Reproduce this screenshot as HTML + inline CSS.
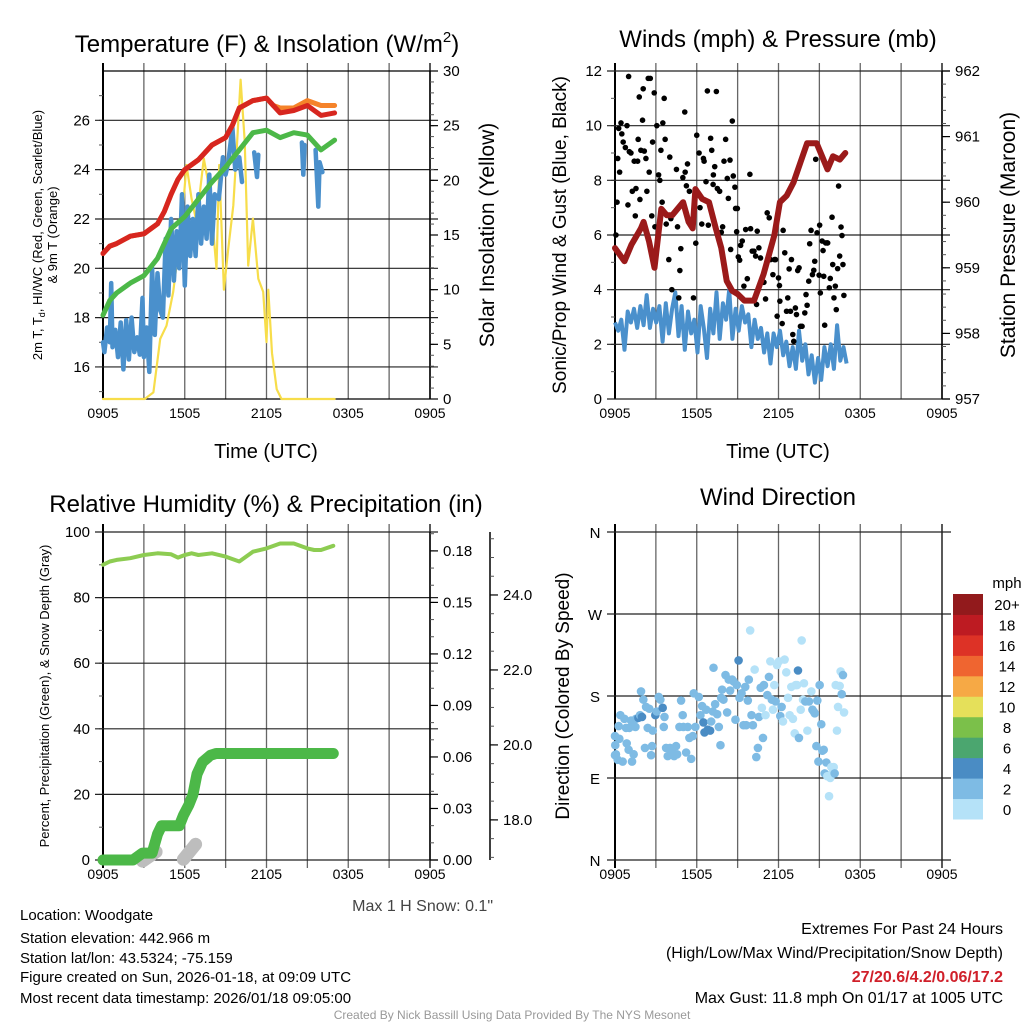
<!DOCTYPE html>
<html><head><meta charset="utf-8"><style>
html,body{margin:0;padding:0;background:#fff;}
svg{display:block;font-family:"Liberation Sans",sans-serif;}
</style></head><body>
<svg id="fig" width="1024" height="1024" viewBox="0 0 1024 1024" xmlns="http://www.w3.org/2000/svg">
<rect x="0" y="0" width="1024" height="1024" fill="#fff"/>
<text x="267" y="52" font-size="24" text-anchor="middle">Temperature (F) &amp; Insolation (W/m<tspan dy="-10" font-size="15">2</tspan><tspan dy="10">)</tspan></text>
<text x="778" y="47" font-size="24" text-anchor="middle">Winds (mph) &amp; Pressure (mb)</text>
<text x="266" y="512" font-size="24" text-anchor="middle">Relative Humidity (%) &amp; Precipitation (in)</text>
<text x="778" y="505" font-size="24" text-anchor="middle">Wind Direction</text>
<text x="266" y="458" font-size="20" text-anchor="middle">Time (UTC)</text>
<text x="778" y="458" font-size="20" text-anchor="middle">Time (UTC)</text>
<text transform="translate(42,235) rotate(-90)" font-size="13" text-anchor="middle">2m T, T<tspan dy="3" font-size="9">d</tspan><tspan dy="-3">, HI/WC (Red, Green, Scarlet/Blue)</tspan></text>
<text transform="translate(57,235) rotate(-90)" font-size="13" text-anchor="middle">&amp; 9m T (Orange)</text>
<text transform="translate(494,235) rotate(-90)" font-size="21" text-anchor="middle">Solar Insolation (Yellow)</text>
<text transform="translate(566,235) rotate(-90)" font-size="19" text-anchor="middle">Sonic/Prop Wind &amp; Gust (Blue, Black)</text>
<text transform="translate(1015,235) rotate(-90)" font-size="21" text-anchor="middle">Station Pressure (Maroon)</text>
<text transform="translate(49,696) rotate(-90)" font-size="13" text-anchor="middle">Percent, Precipitation (Green), &amp; Snow Depth (Gray)</text>
<text transform="translate(569,696) rotate(-90)" font-size="19" text-anchor="middle">Direction (Colored By Speed)</text>
<text x="493" y="911" font-size="16" fill="#444" text-anchor="end">Max 1 H Snow: 0.1"</text>
<g font-size="15">
<text x="20" y="920">Location: Woodgate</text>
<text x="20" y="943">Station elevation: 442.966 m</text>
<text x="20" y="963">Station lat/lon: 43.5324; -75.159</text>
<text x="20" y="982">Figure created on Sun, 2026-01-18, at 09:09 UTC</text>
<text x="20" y="1003">Most recent data timestamp: 2026/01/18 09:05:00</text>
</g>
<g font-size="16" text-anchor="end">
<text x="1003" y="934">Extremes For Past 24 Hours</text>
<text x="1003" y="958">(High/Low/Max Wind/Precipitation/Snow Depth)</text>
<text x="1003" y="982" fill="#d0202a" font-weight="bold">27/20.6/4.2/0.06/17.2</text>
<text x="1003" y="1003">Max Gust: 11.8 mph On 01/17 at 1005 UTC</text>
</g>
<text x="512" y="1019" font-size="12" fill="#999" text-anchor="middle">Created By Nick Bassill Using Data Provided By The NYS Mesonet</text>
</svg>
<script>
const xTickLabels=["0905","1505","2105","0305","0905"];
const tempRed=[[0,20.6],[0.5,20.9],[1,21.0],[2,21.3],[3,21.4],[3.5,21.6],[4,21.8],[4.5,22.3],[5,23.0],[5.5,23.6],[6,24.0],[7,24.4],[8,25.0],[9,25.3],[9.5,25.8],[10,26.5],[11,26.8],[12,26.9],[12.5,26.6],[13,26.3],[14,26.4],[15,26.6],[15.5,26.4],[16,26.2],[17,26.3]];
const tempOrange=[[0,20.6],[0.5,20.9],[1,21.0],[2,21.3],[3,21.4],[3.5,21.6],[4,21.8],[4.5,22.3],[5,23.0],[5.5,23.6],[6,24.0],[7,24.4],[8,25.0],[9,25.3],[9.5,25.8],[10,26.5],[11,26.8],[12,26.9],[12.5,26.6],[13,26.5],[14,26.5],[15,26.8],[16,26.6],[17,26.6]];
const dewGreen=[[0,18.1],[0.5,18.7],[1,19.0],[2,19.4],[3,19.7],[4,20.4],[5,21.6],[6,22.1],[7,22.8],[8,23.5],[9,24.1],[10,24.8],[11,25.5],[12,25.6],[13,25.3],[14,25.5],[15,25.4],[16,24.8],[17,25.2]];
const hiwcBlue=[[0,17],[0.1,16.6],[0.3,17.6],[0.5,17.0],[0.6,19.4],[0.7,16.8],[0.9,17.5],[1.1,16.4],[1.3,17.8],[1.5,15.9],[1.7,17.9],[1.9,16.3],[2.1,18.0],[2.3,16.6],[2.5,17.2],[2.7,16.5],[2.9,18.8],[3.0,16.4],[3.2,17.6],[3.4,15.8],[3.6,20.0],[3.8,17.3],[4.0,19.8],[4.2,18.3],[4.4,18.0],[4.6,21.2],[4.8,18.9],[5.0,22.0],[5.2,19.5],[5.4,21.5],[5.6,20.0],[5.8,23.0],[6.0,19.3],[6.2,22.5],[6.4,20.5],[6.6,22.0],[6.8,20.5],[7.0,23.0],[7.2,21.0],[7.4,22.5],[7.6,21.2],[7.8,23.8],[8.0,21.0],[8.2,23.0],[8.5,22.8],[8.8,24.5],[9.0,23.8],[9.2,24.3],[9.5,25.7],[9.7,24.0],[10.0,24.5],[10.2,23.5],null,[11.1,24.7],[11.3,23.7],[11.4,24.6],null,[14.6,25.1],[14.7,23.8],[14.8,25.0],null,[15.6,24.8],[15.8,22.5],[15.9,24.3],[16.1,23.9]];
const insolation=[[0,0],[3.06,0],[3.7,0.6],[4.2,5.5],[4.66,6.7],[5.15,9.8],[5.76,15.9],[6.13,21.4],[6.5,18.3],[6.86,16.2],[7.4,22],[7.84,19],[8.33,11.9],[8.53,21.4],[8.87,10],[9.19,13.7],[9.56,17.7],[9.85,23.6],[10.1,29.2],[10.4,23.6],[10.66,12.2],[11.0,16.5],[11.4,11],[11.76,9.8],[12.0,5.2],[12.13,10],[12.4,4.2],[12.75,0.9],[13.1,0],[17,0]];
const pressure=[[0,959.3],[0.7,959.1],[1.2,959.35],[1.9,959.6],[2.1,959.7],[2.5,959.4],[2.9,959.0],[3.4,959.9],[3.8,959.8],[4.2,959.8],[5.0,960.0],[5.4,959.7],[5.7,959.6],[5.9,960.2],[6.4,960.05],[6.9,960.0],[7.4,959.6],[7.8,959.3],[8.2,958.8],[8.6,958.65],[9.0,958.6],[9.5,958.5],[10.2,958.5],[10.9,958.9],[11.3,959.2],[11.7,959.5],[12.1,960.0],[12.6,960.1],[13.1,960.3],[13.6,960.6],[14.1,960.9],[14.8,960.9],[15.2,960.7],[15.6,960.5],[16.0,960.7],[16.5,960.65],[16.9,960.75]];
const windSpeed=[2.8,2.5,2.9,1.8,3.2,2.8,3.3,2.6,3.4,2.7,3.8,2.6,3.3,2.8,3.4,2.1,3.5,2.4,3.3,3.9,2.3,3.4,1.8,3.2,2.4,2.9,1.7,3.4,2.6,1.5,3.3,2.4,3.9,2.2,3.5,2.9,4.0,2.2,3.3,2.5,3.4,2.8,3.1,1.9,2.9,2.2,2.6,1.7,2.4,1.3,2.4,1.9,2.5,1.6,2.1,1.2,1.9,1.1,2.5,1.4,2.0,0.9,1.6,0.6,1.5,0.7,1.9,1.2,2.0,1.1,2.7,1.4,1.9,1.3];
const gusts=[[0.07,6.0],[0.15,7.2],[0.2,8.8],[0.34,8.3],[0.27,9.9],[0.44,10.1],[0.5,9.7],[0.6,9.4],[0.76,9.2],[0.88,10.0],[1.0,11.8],[1.05,9.05],[1.17,9.0],[0.95,7.1],[1.27,7.6],[1.41,8.7],[1.54,7.7],[1.49,6.7],[1.66,8.7],[1.7,9.5],[1.78,11.05],[1.83,7.3],[1.9,9.1],[2.02,10.2],[2.07,11.35],[2.15,9.07],[2.27,8.8],[2.34,7.6],[2.44,11.73],[2.59,11.73],[2.51,8.3],[2.7,6.7],[2.76,9.4],[2.88,11.2],[2.93,6.3],[3.07,10.0],[3.2,8.2],[3.29,8.0],[3.37,9.1],[3.46,7.2],[3.51,10.1],[3.61,11.0],[3.68,9.5],[3.76,6.4],[3.95,5.1],[4.02,8.85],[4.1,6.6],[4.17,4.0],[4.51,8.4],[4.59,6.3],[4.68,3.7],[4.83,5.5],[4.76,4.7],[4.98,8.1],[5.12,10.5],[5.15,8.3],[5.32,8.6],[5.24,7.8],[5.46,7.6],[5.76,3.7],[5.93,5.7],[6.0,9.65],[6.17,9.0],[6.24,7.0],[6.37,6.4],[6.49,8.8],[6.54,8.7],[6.68,7.95],[6.78,11.27],[6.85,6.36],[7.02,9.54],[7.1,9.1],[7.22,8.2],[7.2,7.85],[7.32,8.5],[7.44,11.25],[7.51,7.7],[7.68,7.6],[7.8,6.1],[7.9,6.3],[8.0,8.7],[8.12,9.5],[8.24,8.07],[8.32,7.34],[8.44,8.74],[8.49,5.47],[8.61,10.17],[8.68,8.16],[8.8,7.75],[8.85,6.97],[8.98,6.97],[8.93,6.12],[9.05,5.2],[9.15,5.08],[9.22,5.62],[9.34,5.78],[9.46,4.13],[9.59,6.2],[9.71,4.4],[9.9,8.22],[9.95,6.23],[10.07,5.41],[10.2,5.41],[10.32,5.23],[10.39,3.46],[10.44,6.14],[10.56,5.53],[10.68,5.16],[10.93,4.27],[11.05,3.66],[11.17,6.81],[11.32,6.63],[11.41,5.1],[11.59,4.55],[11.71,5.1],[11.78,5.1],[11.9,3.03],[12.0,4.43],[12.07,4.15],[12.1,3.58],[12.27,2.76],[12.34,6.17],[12.46,5.35],[12.59,3.21],[12.68,3.7],[12.78,4.76],[12.88,3.21],[12.95,5.1],[13.05,2.36],[13.12,2.11],[13.24,3.33],[13.32,3.09],[13.41,4.7],[13.51,4.8],[13.61,2.66],[13.73,2.66],[13.93,3.15],[14.02,3.82],[14.1,3.43],[14.22,4.31],[14.29,5.68],[14.39,6.17],[14.49,4.55],[14.59,4.71],[14.66,5.04],[14.73,8.77],[14.83,6.08],[14.98,4.53],[15.02,6.36],[15.07,3.88],[15.2,5.78],[15.27,5.43],[15.32,4.49],[15.39,2.7],[15.46,5.71],[15.56,5.71],[15.61,5.71],[15.73,4.07],[15.8,4.41],[15.93,6.65],[15.98,4.92],[16.07,3.7],[16.17,4.13],[16.24,3.27],[16.34,4.77],[16.41,7.79],[16.49,5.23],[16.59,6.29],[16.66,5.98],[16.73,4.92],[16.8,3.79]];
const rh=[[0,90],[0.5,91],[1,91.5],[2,92],[3,93],[4,93.5],[5,93.2],[5.5,92.2],[6,93],[6.5,93.5],[7,93],[8,93.5],[9,92.5],[10,91],[10.5,92.5],[11,94],[12,95],[13,96.5],[14,96.5],[15,95],[15.5,94.5],[16,94.5],[16.9,95.8]];
const precip=[[0,0],[2.2,0],[2.9,0.004],[3.6,0.004],[4.0,0.015],[4.3,0.02],[5.6,0.02],[5.9,0.026],[6.3,0.032],[6.6,0.038],[6.9,0.05],[7.3,0.057],[7.9,0.061],[8.3,0.062],[16.9,0.062]];
const snowDepth=[[2.9,16.9],[3.9,17.15],null,[5.9,16.95],[6.8,17.35]];
const windDir=[[0,136,3],[0.02,126,3],[0.07,116,3],[0,115,3],[0.27,147,3],[0.32,133,3],[0.2,110,3],[0.39,159,3],[0.56,108,3],[0.69,155,3],[0.81,145,3],[0.86,128,3],[1.0,121,3],[1.05,145,3],[1.18,153,3],[1.25,108,3],[1.37,116,3],[1.5,146,3],[1.54,155,3],[1.72,156,5],[1.84,159,3],[1.91,185,3],[1.98,157,5],[2.08,176,3],[2.2,123,3],[2.28,168,3],[2.4,145,3],[2.52,166,3],[2.65,115,3],[2.72,125,3],[2.77,142,3],[2.96,159,5],[3.06,163,3],[3.21,179,3],[3.33,176,3],[3.5,167,5],[3.63,157,3],[3.58,146,3],[3.75,123,3],[3.87,114,3],[4.04,123,3],[4.19,120,3],[4.34,114,3],[4.48,125,3],[4.56,116,3],[4.73,146,3],[4.85,175,3],[4.97,159,3],[5.02,146,3],[5.22,118,3],[5.34,146,3],[5.46,134,3],[5.59,111,3],[5.71,136,3],[5.78,183,3],[5.9,146,3],[6.15,179,3],[6.27,159,3],[6.39,169,3],[6.49,151,5],[6.57,140,5],[6.69,165,3],[6.81,143,5],[6.98,142,5],[7.06,152,3],[7.18,163,3],[7.23,211,3],[7.35,171,3],[7.5,160,3],[7.62,146,3],[7.74,126,3],[7.79,178,3],[7.86,187,3],[7.96,176,3],[8.11,203,3],[8.23,162,3],[8.35,198,3],[8.45,186,3],[8.6,198,3],[8.7,196,3],[8.84,154,3],[8.94,192,3],[9.07,219,5],[9.14,178,3],[9.29,183,3],[9.43,148,3],[9.56,190,3],[9.63,148,3],[9.75,175,3],[9.82,198,3],[9.92,252,1],[10.02,159,3],[10.12,148,3],[10.25,209,1],[10.37,113,3],[10.49,123,3],[10.56,157,3],[10.69,189,3],[10.78,167,1],[10.86,134,3],[10.93,192,3],[11.05,159,1],[11.18,181,3],[11.3,201,3],[11.4,218,1],[11.51,176,3],[11.59,165,1],[11.69,192,1],[11.79,174,3],[11.89,214,1],[12.03,218,1],[12.13,158,3],[12.23,168,3],[12.33,152,1],[12.45,220,1],[12.57,206,1],[12.7,178,1],[12.82,159,1],[12.94,190,1],[13.06,155,1],[13.19,139,1],[13.26,192,1],[13.36,192,1],[13.43,208,5],[13.5,134,3],[13.63,165,1],[13.7,241,1],[13.8,176,1],[13.87,194,1],[13.97,174,3],[14.12,142,1],[14.24,174,3],[14.41,185,1],[14.49,165,3],[14.58,163,3],[14.66,161,3],[14.78,125,3],[14.85,175,3],[14.93,108,3],[15.02,192,3],[15.14,149,3],[15.22,120,3],[15.32,121,3],[15.39,95,3],[15.51,107,3],[15.58,92,1],[15.71,70,1],[15.8,90,1],[15.88,102,1],[15.95,95,1],[16.05,102,1],[16.12,95,3],[16.2,192,1],[16.29,142,1],[16.37,168,1],[16.49,191,1],[16.56,207,1],[16.64,182,3],[16.73,203,3],[16.81,162,1]];
const dirLabels=["N","E","S","W","N"];
const cbLabels=["0","2","4","6","8","10","12","14","16","18","20+"];
const cbColors=["#b5e2f8","#7ebbe4","#4a8cc4","#4ba66f","#7bc04a","#e5e05a","#f6a945","#ef6530","#dd3226","#bd1b22","#921a1c"];

const NS="http://www.w3.org/2000/svg";
const svg=document.getElementById("fig");
function el(tag,attrs,parent){const e=document.createElementNS(NS,tag);for(const k in attrs)e.setAttribute(k,attrs[k]);(parent||svg).appendChild(e);return e;}
function scale(d0,d1,r0,r1){return v=>r0+(v-d0)/(d1-d0)*(r1-r0);}
function pathFrom(pts,sx,sy){let d="",pen=false;for(const p of pts){if(p===null){pen=false;continue;}d+=(pen?"L":"M")+sx(p[0]).toFixed(1)+","+sy(p[1]).toFixed(1);pen=true;}return d;}

function frame(name,X0,X1,Y0,Y1,sx,extendBottom){
  const g=el("g",{});
  
  
  for(let h=0;h<=24;h+=3){const x=sx(h);
    el("line",{x1:x,x2:x,y1:Y0-8,y2:Y1+(extendBottom?8:0),stroke:(h===0||h===24)?"#000":"#666","stroke-width":(h===0)?2:1.3},g);}
  xTickLabels.forEach((t,i)=>{const tx=el("text",{x:sx(i*6),y:Y1+19,"font-size":14,"text-anchor":"middle"},g);tx.textContent=t;
    
    });
  return g;
}
function yAxis(name,x,Y0,Y1,sy,majors,minors,side,fmt,grid,X1){
  const g=el("g",{});
  
  
  const dir=side==="left"?-1:1;
  el("line",{x1:x,x2:x,y1:Y0,y2:Y1,stroke:"#000","stroke-width":1.5},g);
  minors.forEach(v=>{const y=sy(v);el("line",{x1:x,x2:x+dir*4,y1:y,y2:y,stroke:"#555","stroke-width":1},g);});
  majors.forEach(v=>{const y=sy(v);
    if(grid)el("line",{x1:x-8,x2:X1,y1:y,y2:y,stroke:"#222","stroke-width":1.2},g);
    else el("line",{x1:x,x2:x+dir*8,y1:y,y2:y,stroke:"#000","stroke-width":1.2},g);
    const t=el("text",{x:x+dir*13,y:y+5,"font-size":15,"text-anchor":side==="left"?"end":"start"},g);t.textContent=fmt(v);
    
    });
}
function range(a,b,s){const r=[];for(let v=a;v<=b+1e-9;v+=s)r.push(+v.toFixed(4));return r;}

/* ---------- Temperature ---------- */
{const X0=103,X1=430,Y0=71,Y1=399;
 const sx=scale(0,24,X0,X1),sy=scale(14.7,28.0,Y1,Y0),sy2=scale(0,30,Y1,Y0);
 frame("temperature",X0,X1,Y0,Y1,sx,false);
 yAxis("temperature-left-axis",X0,Y0,Y1,sy,range(16,26,2),range(15,27,1),"left",v=>v,true,X1+8);
 el("line",{x1:X0,x2:X1,y1:Y0,y2:Y0,stroke:"#000","stroke-width":1.2});
 el("line",{x1:X0,x2:X1,y1:Y1,y2:Y1,stroke:"#000","stroke-width":1.2});
 yAxis("insolation-right-axis",X1,Y0,Y1,sy2,range(0,30,5),range(0,30,1),"right",v=>v,false);
 const lines=[[insolation,"#f7dd4a",2.2,sy2,"insolation-line"],[hiwcBlue,"#4a90cc",4.5,sy,"heat-index-windchill-line"],[dewGreen,"#4cb848",5,sy,"dewpoint-line"],[tempOrange,"#f5832a",5,sy,"temp-9m-line"],[tempRed,"#d7261f",5,sy,"temp-2m-line"]];
 for(const [d,c,w,ys,n] of lines){const p=el("path",{d:pathFrom(d,sx,ys),fill:"none",stroke:c,"stroke-width":w,"stroke-linejoin":"round","stroke-linecap":"round"});
  
  }
}
/* ---------- Winds ---------- */
{const X0=615,X1=942,Y0=71,Y1=399;
 const sx=scale(0,24,X0,X1),sy=scale(0,12,Y1,Y0),sp=scale(957,962,Y1,Y0);
 frame("winds",X0,X1,Y0,Y1,sx,false);
 yAxis("wind-left-axis",X0,Y0,Y1,sy,range(0,12,2),range(0,12,1),"left",v=>v,true,X1+8);
 yAxis("pressure-right-axis",X1,Y0,Y1,sp,range(957,962,1),range(957,962,0.2),"right",v=>v,false);
 const ws=windSpeed.map((v,i)=>[i*17/(windSpeed.length-1),v]);
 const bp=el("path",{d:pathFrom(ws,sx,sy),fill:"none",stroke:"#4a90cc","stroke-width":4,"stroke-linejoin":"round"});
 
 
 const gg=el("g",{});
 
 
 gusts.forEach(p=>{const c=el("circle",{cx:sx(p[0]),cy:sy(p[1]),r:2.8,fill:"#000"},gg);
  
  });
 const pp=el("path",{d:pathFrom(pressure,sx,sp),fill:"none",stroke:"#9b1a1a","stroke-width":6,"stroke-linejoin":"round","stroke-linecap":"round"});
 
 
}
/* ---------- Humidity ---------- */
{const X0=103,X1=430,Y0=532,Y1=860;
 const sx=scale(0,24,X0,X1),sy=scale(0,100,Y1,Y0),spr=scale(0,0.191,Y1,Y0),ssn=scale(16.93,25.68,Y1,Y0);
 frame("humidity",X0,X1,Y0,Y1,sx,true);
 yAxis("humidity-left-axis",X0,Y0,Y1,sy,range(0,100,20),range(0,100,10),"left",v=>v,true,X1+8);
 yAxis("precip-right-axis",X1,Y0,Y1,spr,range(0,0.18,0.03),range(0,0.19,0.01),"right",v=>v.toFixed(2),false);
 yAxis("snow-depth-axis",490,Y0,Y1,ssn,range(18,24,2),range(17,25.5,0.5),"right",v=>v.toFixed(1),false);
 const gp=el("path",{d:pathFrom(snowDepth,sx,ssn),fill:"none",stroke:"#bdbdbd","stroke-width":13,"stroke-linecap":"round"});
 
 
 const pr=el("path",{d:pathFrom(precip,sx,spr),fill:"none",stroke:"#4cb848","stroke-width":11,"stroke-linejoin":"round","stroke-linecap":"round"});
 
 
 const rp=el("path",{d:pathFrom(rh,sx,sy),fill:"none",stroke:"#8dcc52","stroke-width":4,"stroke-linejoin":"round","stroke-linecap":"round"});
 
 
}
/* ---------- Wind direction ---------- */
{const X0=615,X1=942,Y0=532,Y1=860;
 const sx=scale(0,24,X0,X1),sy=scale(0,360,Y1,Y0);
 frame("wind-direction",X0,X1,Y0,Y1,sx,true);
 const g=el("g",{});
 
 
 el("line",{x1:X0,x2:X0,y1:Y0,y2:Y1,stroke:"#000","stroke-width":2},g);
 dirLabels.forEach((t,i)=>{const y=sy(i*90);
  el("line",{x1:X0-8,x2:X1+9,y1:y,y2:y,stroke:"#222","stroke-width":1.2},g);
  const tx=el("text",{x:X0-20,y:y+6,"font-size":15,"text-anchor":"middle"},g);tx.textContent=t;
  
  });
 const dg=el("g",{});
 
 
 windDir.forEach(p=>{const bin=Math.min(10,Math.floor(p[2]/2));
  const c=el("circle",{cx:sx(p[0]),cy:sy(p[1]),r:4.3,fill:cbColors[bin]},dg);
  
  });
 const cb=el("g",{});
 
 
 const cbTop=594,cbBot=819,bh=(cbBot-cbTop)/cbColors.length;
 cbColors.forEach((c,i)=>{const y=cbBot-(i+1)*bh;
  el("rect",{x:953,y:y,width:30,height:bh+0.5,fill:c},cb);
  const t=el("text",{x:1007,y:y+bh/2+6,"font-size":15,"text-anchor":"middle"},cb);t.textContent=cbLabels[i];
  
  });
 const u=el("text",{x:1007,y:588,"font-size":15,"text-anchor":"middle"},cb);u.textContent="mph";
 
 
}
</script>
</body></html>
